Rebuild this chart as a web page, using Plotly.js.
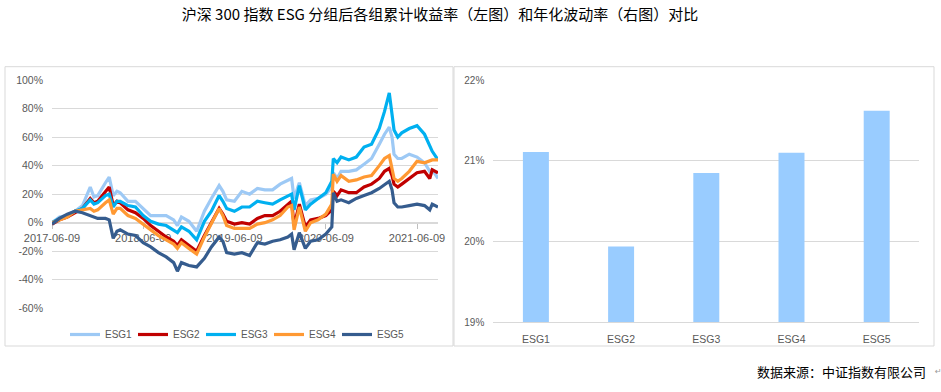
<!DOCTYPE html>
<html>
<head>
<meta charset="utf-8">
<script src="https://cdn.plot.ly/plotly-3.0.1.min.js"></script>
<style>html,body{margin:0;padding:0;background:#fff;}#chart{width:941px;height:392px;}</style>
</head>
<body>
<div id="chart"></div>
<script>
// ---------- data ----------
const dates = [
'2017-06-09','2017-07-09','2017-08-09','2017-09-09','2017-10-09','2017-11-09','2017-11-24','2017-12-09',
'2018-01-09','2018-01-24','2018-02-09','2018-02-24','2018-03-09','2018-04-09','2018-05-09','2018-06-09',
'2018-07-09','2018-08-09','2018-09-09','2018-10-09','2018-10-24','2018-11-09','2018-12-09',
'2019-01-09','2019-02-09','2019-03-09','2019-04-09','2019-04-24','2019-05-09','2019-06-09','2019-07-09','2019-08-09','2019-09-09','2019-10-09','2019-11-09','2019-12-09',
'2020-01-09','2020-01-24','2020-02-03','2020-02-24','2020-03-19','2020-04-09','2020-05-09','2020-06-09','2020-07-03','2020-07-09','2020-07-24','2020-08-09','2020-09-09','2020-10-09','2020-11-09','2020-12-09',
'2021-01-09','2021-01-30','2021-02-18','2021-03-01','2021-03-09','2021-03-24','2021-04-09','2021-05-09','2021-06-09','2021-07-09','2021-07-30','2021-08-09','2021-09-01'
];
// cumulative return, %
const esg1 = [0,4,5,8,12,25,18,19, 28,32,19,22,21,15,15,10, 5,5,5,2,-2,4,1,
  -6,8,17,26,22,16,15,22,20,24,23,23,27,
  30,31,17,28,12,16,17,20,25,35,31,36,36,37,41,45,
  55,62,67,60,48,45,45,48,46,42,36,37,31];
const esg2 = [-1,2,4,7,10,17,14,15, 22,25,12,15,14,9,7,3, -2,-6,-10,-13,-16,-12,-16,
  -20,-9,0,10,6,1,-1,0,-1,3,5,5,8,
  13,15,-2,13,-3,2,3,5,9,22,19,23,21,21,25,27,
  31,36,38,33,27,25,27,31,35,36,31,37,35];
const esg3 = [0,3,5,8,10,16,13,14, 19,20,11,15,15,12,11,5, 1,-1,-2,-5,-7,-3,-6,
  -12,1,8,19,15,10,8,11,11,15,14,13,16,
  19,20,9,26,9,13,17,21,29,45,42,46,44,46,53,55,
  66,78,91,75,65,60,63,66,68,62,54,50,44];
const esg4 = [0,2,4,8,9,10,8,9, 14,16,6,10,10,5,3,-1, -5,-9,-12,-15,-18,-14,-18,
  -22,-10,-1,10,5,-2,-4,-4,-4,-1,0,2,5,
  11,12,-5,11,-6,0,2,6,13,34,29,33,29,30,32,33,
  40,45,47,38,31,29,31,36,43,42,43,44,44];
const esg5 = [-1,3,6,8,7,5,4,3, 3,2,-11,-6,-5,-8,-9,-14, -17,-21,-24,-28,-34,-28,-30,
  -31,-25,-17,-10,-13,-21,-22,-21,-23,-14,-15,-13,-12,
  -10,-8,-19,-7,-18,-13,-12,-8,-3,21,15,16,14,17,19,21,
  24,27,29,23,14,11,11,12,13,12,9,13,11];
const seriesNames = ['ESG1','ESG2','ESG3','ESG4','ESG5'];
const seriesColors = ['#9DC9F5','#C00000','#00B0F0','#FF9933','#355C8E'];

const leftTickVals = [-60,-40,-20,0,20,40,60,80,100];
const leftTickText = ['-60%','-40%','-20%','0%','20%','40%','60%','80%','100%'];

// annualised volatility, %
const volCategories = ['ESG1','ESG2','ESG3','ESG4','ESG5'];
const volValues = [21.11, 19.94, 20.85, 21.10, 21.62];
const rightTickVals = [19,20,21,22];
const rightTickText = ['19%','20%','21%','22%'];

const titleText = '沪深 300 指数 ESG 分组后各组累计收益率（左图）和年化波动率（右图）对比';
const sourceText = '数据来源：中证指数有限公司';

// ---------- layout helpers ----------
const W = 941, H = 392;
const fx = p => p / W;
const fy = p => 1 - p / H;
const grey = '#595959', grid = '#D9D9D9';

const lineData = [esg1, esg2, esg3, esg4, esg5];
const traces = lineData.map((vals, i) => ({
  type: 'scatter', mode: 'lines', x: dates, y: vals, name: seriesNames[i],
  xaxis: 'x', yaxis: 'y',
  line: {color: seriesColors[i], width: 3.2}
}));
traces.push({
  type: 'bar', x: volCategories, y: volValues, xaxis: 'x2', yaxis: 'y2',
  marker: {color: '#99CCFF'}, showlegend: false
});

const layout = {
  width: W, height: H,
  margin: {l: 0, r: 0, t: 0, b: 0},
  paper_bgcolor: '#fff', plot_bgcolor: 'rgba(0,0,0,0)',
  font: {family: 'Liberation Sans, Arial, sans-serif', color: grey},
  showlegend: true,
  title: {
    text: titleText, x: fx(440), xanchor: 'center', xref: 'paper',
    y: fy(15), yanchor: 'middle', yref: 'paper',
    font: {family: 'Noto Sans CJK SC', size: 15, color: '#000'}
  },
  xaxis: {
    type: 'date', domain: [fx(52), fx(438)], range: ['2017-06-09', '2021-09-01'],
    anchor: 'free', position: fy(222.7),
    tick0: '2017-06-09', dtick: 'M12', tickformat: '%Y-%m-%d',
    ticks: 'outside', ticklen: 5, tickcolor: '#BFBFBF',
    showline: true, linecolor: grid, showgrid: false, zeroline: false,
    tickfont: {size: 11, color: grey}, layer: 'below traces'
  },
  yaxis: {
    domain: [fy(308.3), fy(80)], range: [-60, 100], anchor: 'x',
    tickvals: leftTickVals, ticktext: leftTickText,
    showgrid: true, gridcolor: grid, zeroline: false, showline: false,
    ticks: '', ticklabelstandoff: 8,
    tickfont: {size: 10.5, color: grey}
  },
  xaxis2: {
    type: 'category', domain: [fx(493.3), fx(919.3)], anchor: 'y2',
    showline: true, linecolor: grid, ticks: '', showgrid: false,
    ticklabelstandoff: 7,
    tickfont: {size: 10.5, color: grey}
  },
  yaxis2: {
    domain: [fy(322.3), fy(80)], range: [19, 22], anchor: 'x2',
    tickvals: rightTickVals, ticktext: rightTickText,
    showgrid: true, gridcolor: grid, zeroline: false, showline: false,
    ticks: '', ticklabelstandoff: 8,
    tickfont: {size: 10, color: grey}
  },
  bargap: 0.695,
  legend: {
    orientation: 'h', x: fx(65), xanchor: 'left', y: fy(334.5), yanchor: 'middle',
    font: {size: 10, color: grey}, bgcolor: 'rgba(0,0,0,0)',
    traceorder: 'normal', itemwidth: 30, entrywidth: 23
  },
  shapes: [
    {type: 'rect', xref: 'paper', yref: 'paper', x0: fx(5), x1: fx(453), y0: fy(346), y1: fy(66.7),
     line: {color: grid, width: 1}},
    {type: 'rect', xref: 'paper', yref: 'paper', x0: fx(454), x1: fx(934), y0: fy(346), y1: fy(66.7),
     line: {color: grid, width: 1}}
  ],
  annotations: [
    {text: sourceText, xref: 'paper', yref: 'paper', x: fx(928), xanchor: 'right',
     y: fy(371), yanchor: 'middle', showarrow: false,
     font: {family: 'Noto Sans CJK SC', size: 13, color: '#000'}},
    {text: '↵', xref: 'paper', yref: 'paper', x: fx(933), xanchor: 'left',
     y: fy(371), yanchor: 'middle', showarrow: false,
     font: {family: 'DejaVu Sans', size: 8, color: '#9A9A9A'}}
  ]
};

Plotly.newPlot('chart', traces, layout, {staticPlot: true, displayModeBar: false});
</script>
</body>
</html>
